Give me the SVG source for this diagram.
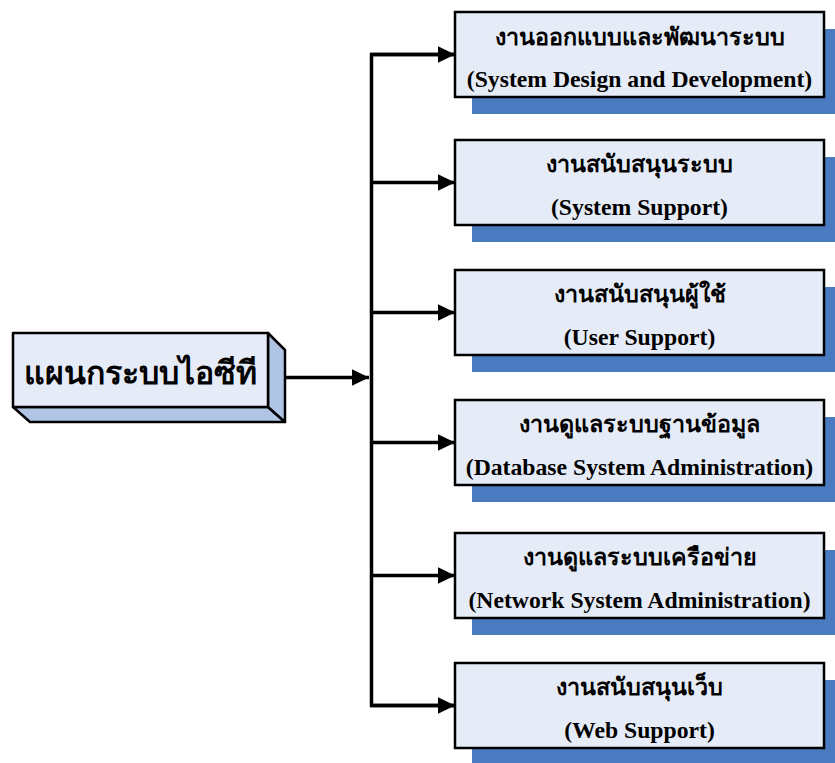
<svg xmlns="http://www.w3.org/2000/svg" width="835" height="763" viewBox="0 0 835 763">
  <defs>
    <marker id="arrow" markerWidth="5" markerHeight="4.8" refX="5" refY="2.4" orient="auto" markerUnits="strokeWidth">
      <path d="M0,0 L5,2.4 L0,4.8 Z" fill="#000"/>
    </marker>
    <style>
      .shadow { fill: #4A7BC1; }
      .card { fill: #E6ECF7; stroke: #000; stroke-width: 2.5; }
      .face { fill: #E6ECF7; stroke: #000; stroke-width: 2.5; stroke-linejoin: round; }
      .side { fill: #B0C5E6; stroke: #000; stroke-width: 2.5; stroke-linejoin: round; }
      .th { font-family: "Liberation Serif", serif; font-weight: bold; font-size: 23.3px; fill: #000; text-anchor: middle; }
      .en { font-family: "Liberation Serif", serif; font-weight: bold; font-size: 23.7px; fill: #000; text-anchor: middle; }
      .title { font-family: "Liberation Serif", serif; font-weight: bold; font-size: 32px; fill: #000; text-anchor: middle; }
      .wire { fill: none; stroke: #000; stroke-width: 3.5; }
    </style>
  </defs>

  <!-- connectors -->
  <g id="connectors">
    <line class="wire" x1="285" y1="377.5" x2="369" y2="377.5" marker-end="url(#arrow)"/>
    <path class="wire" d="M455,54.5 H371.5 V705.5 H455"/>
    <line class="wire" x1="371" y1="54.5" x2="455" y2="54.5" marker-end="url(#arrow)"/>
    <line class="wire" x1="371" y1="182.5" x2="455" y2="182.5" marker-end="url(#arrow)"/>
    <line class="wire" x1="371" y1="312.5" x2="455" y2="312.5" marker-end="url(#arrow)"/>
    <line class="wire" x1="371" y1="442.5" x2="455" y2="442.5" marker-end="url(#arrow)"/>
    <line class="wire" x1="371" y1="575.5" x2="455" y2="575.5" marker-end="url(#arrow)"/>
    <line class="wire" x1="371" y1="705.5" x2="455" y2="705.5" marker-end="url(#arrow)"/>
  </g>

  <!-- root block -->
  <g id="root">
    <polygon class="side" points="13,407 268,407 285,422 30,422"/>
    <polygon class="side" points="268,333 285,350 285,422 268,407"/>
    <rect class="face" x="13" y="333" width="255" height="74"/>
    <text class="title" x="140" y="384">แผนกระบบไอซีที</text>
  </g>

  <g id="design">
    <rect class="shadow" x="472" y="29" width="370" height="85"/>
    <rect class="card" x="455" y="12" width="369" height="85"/>
    <text class="th" x="639.5" y="45">งานออกแบบและพัฒนาระบบ</text>
    <text class="en" x="639.5" y="87">(System Design and Development)</text>
  </g>

  <g id="system-support">
    <rect class="shadow" x="472" y="157" width="370" height="85"/>
    <rect class="card" x="455" y="140" width="369" height="85"/>
    <text class="th" x="639.5" y="172">งานสนับสนุนระบบ</text>
    <text class="en" x="639.5" y="215">(System Support)</text>
  </g>

  <g id="user-support">
    <rect class="shadow" x="472" y="287" width="370" height="85"/>
    <rect class="card" x="455" y="270" width="369" height="85"/>
    <text class="th" x="639.5" y="302">งานสนับสนุนผู้ใช้</text>
    <text class="en" x="639.5" y="345">(User Support)</text>
  </g>

  <g id="database">
    <rect class="shadow" x="472" y="417" width="370" height="85"/>
    <rect class="card" x="455" y="400" width="369" height="85"/>
    <text class="th" x="639.5" y="432">งานดูแลระบบฐานข้อมูล</text>
    <text class="en" x="639.5" y="475">(Database System Administration)</text>
  </g>

  <g id="network">
    <rect class="shadow" x="472" y="550" width="370" height="85"/>
    <rect class="card" x="455" y="533" width="369" height="85"/>
    <text class="th" x="639.5" y="565">งานดูแลระบบเครือข่าย</text>
    <text class="en" x="639.5" y="608">(Network System Administration)</text>
  </g>

  <g id="web-support">
    <rect class="shadow" x="472" y="680" width="370" height="85"/>
    <rect class="card" x="455" y="663" width="369" height="85"/>
    <text class="th" x="639.5" y="695">งานสนับสนุนเว็บ</text>
    <text class="en" x="639.5" y="738">(Web Support)</text>
  </g>
</svg>
